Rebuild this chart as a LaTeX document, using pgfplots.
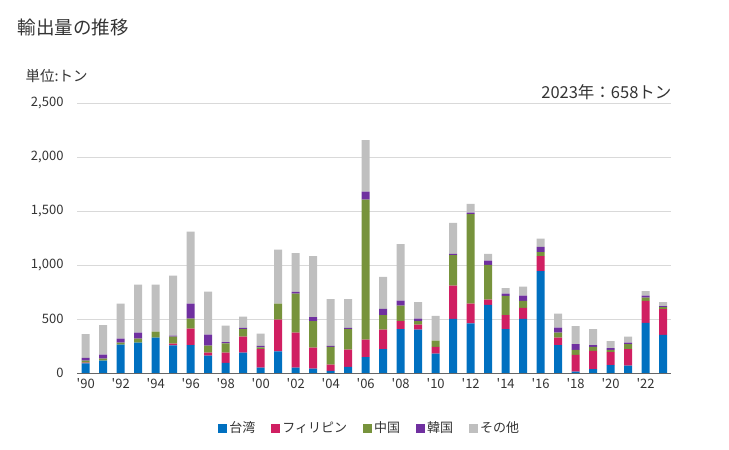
\documentclass[border=0pt]{standalone}
\usepackage{fontspec}
\setmainfont{Noto Sans CJK JP}
\usepackage{pgfplots}
\usepackage{pgfplotstable}
\pgfplotsset{compat=1.18}

\definecolor{cTW}{HTML}{0070C0}
\definecolor{cPH}{HTML}{D01F62}
\definecolor{cCN}{HTML}{77933C}
\definecolor{cKR}{HTML}{7030A0}
\definecolor{cOT}{HTML}{BFBFBF}
\definecolor{txt}{HTML}{333333}

% year, Taiwan, Philippines, China, Korea, other (tons)
\pgfplotstableread{
year tw ph cn kr ot
1990 89 7 18 25 222
1991 114 0 19 37 274
1992 262 0 19 37 324
1993 281 0 37 55 445
1994 327 0 56 0 435
1995 256 16 64 10 555
1996 259 151 93 139 666
1997 160 28 65 102 398
1998 93 95 87 12 151
1999 188 148 71 10 105
2000 49 173 16 12 114
2001 201 293 148 0 500
2002 49 324 361 16 361
2003 40 195 246 37 565
2004 19 58 164 9 435
2005 56 160 191 10 268
2006 148 161 1296 74 478
2007 222 179 136 56 296
2008 407 74 142 47 524
2009 401 46 34 22 154
2010 179 62 58 0 229
2011 500 309 283 10 287
2012 460 182 830 12 81
2013 630 49 321 40 62
2014 407 130 176 21 53
2015 500 102 65 49 83
2016 944 139 37 47 77
2017 259 68 46 47 129
2018 12 155 46 55 167
2019 37 167 37 18 148
2020 74 120 19 18 65
2021 68 154 46 13 55
2022 463 204 30 19 43
2023 352 240 19 9 37
}\exports

\begin{document}
\begin{tikzpicture}
\path[use as bounding box] (0pt,0pt) rectangle (729pt,450pt);
\node[anchor=west,text=txt,font=\fontsize{18.5}{22}\selectfont] at (14pt,423pt) {輸出量の推移};
\node[anchor=west,text=txt,font=\fontsize{14.5}{17}\selectfont] at (22pt,374pt) {単位:トン};
\node[anchor=east,text=txt,font=\fontsize{16.5}{19}\selectfont] at (675pt,358pt) {2023年：658トン};
\begin{axis}[
    at={(77pt,77pt)}, anchor=south west,
    scale only axis,
    width=594pt, height=270pt,
    ybar stacked,
    bar width=8pt,
    xmin=1989.5, xmax=2023.45,
    ymin=0, ymax=2500,
    ytick={0,500,...,2500},
    xtick={1990,1992,...,2022},
    xticklabels={{\textquotesingle90},{\textquotesingle92},{\textquotesingle94},{\textquotesingle96},{\textquotesingle98},{\textquotesingle00},{\textquotesingle02},{\textquotesingle04},{\textquotesingle06},{\textquotesingle08},{\textquotesingle10},{\textquotesingle12},{\textquotesingle14},{\textquotesingle16},{\textquotesingle18},{\textquotesingle20},{\textquotesingle22}},
    /pgf/number format/assume math mode=true,
    /pgf/number format/1000 sep={,},
    scaled y ticks=false,
    ticklabel style={font=\fontsize{13}{15}\selectfont, text=txt},
    major tick length=0pt,
    axis x line*=bottom,
    axis y line*=left,
    y axis line style={draw=none},
    x axis line style={draw=gray!80!black, line width=0.8pt, -},
    ymajorgrids,
    grid style={draw=gray!30, line width=0.8pt},
    yticklabel style={anchor=east, xshift=-10pt},
    xticklabel style={yshift=-2pt},
    legend style={at={(0.493,-0.204)}, anchor=center, draw=none,
        legend columns=5, font=\fontsize{13}{15}\selectfont, text=txt,
        /tikz/every even column/.append style={column sep=14pt}},
    legend image code/.code={\fill[#1] (0pt,-4.5pt) rectangle (9pt,4.5pt);},
]
\addplot[fill=cTW, draw=none] table[x=year,y=tw] {\exports};
\addplot[fill=cPH, draw=none] table[x=year,y=ph] {\exports};
\addplot[fill=cCN, draw=none] table[x=year,y=cn] {\exports};
\addplot[fill=cKR, draw=none] table[x=year,y=kr] {\exports};
\addplot[fill=cOT, draw=none] table[x=year,y=ot] {\exports};
\legend{台湾,フィリピン,中国,韓国,その他}
\end{axis}
\end{tikzpicture}
\end{document}
